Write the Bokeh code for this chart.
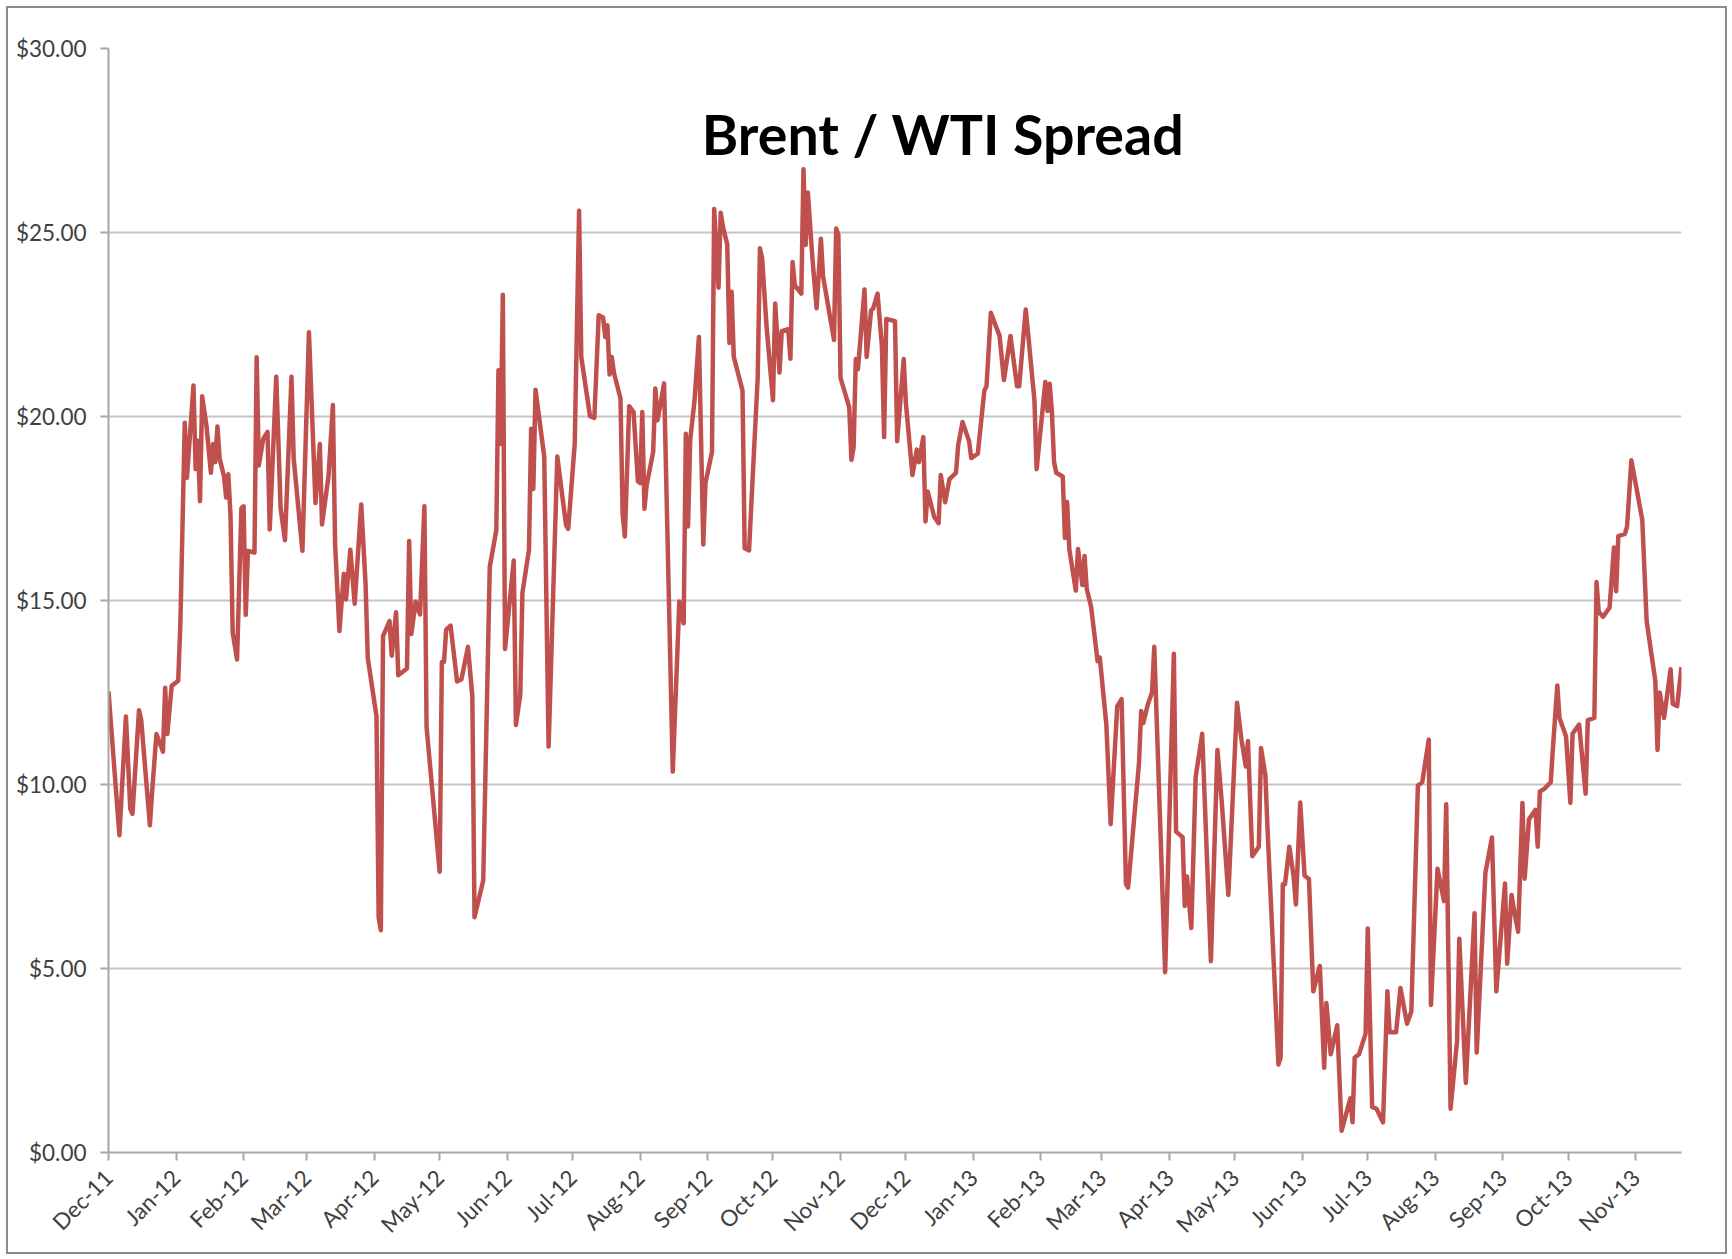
import pandas as pd
from math import pi
from bokeh.plotting import figure
from bokeh.models import (ColumnDataSource, Range1d, FixedTicker,
                          DatetimeTickFormatter, NumeralTickFormatter, Label)
from bokeh.embed import file_html
from bokeh.resources import INLINE

title_text = "Brent / WTI Spread"
y_ticks = [0, 5, 10, 15, 20, 25, 30]
month_ticks = ["2011-12-01", "2012-01-01", "2012-02-01", "2012-03-01", "2012-04-01",
               "2012-05-01", "2012-06-01", "2012-07-01", "2012-08-01", "2012-09-01",
               "2012-10-01", "2012-11-01", "2012-12-01", "2013-01-01", "2013-02-01",
               "2013-03-01", "2013-04-01", "2013-05-01", "2013-06-01", "2013-07-01",
               "2013-08-01", "2013-09-01", "2013-10-01", "2013-11-01"]

dates = [
    "2011-12-01", "2011-12-06", "2011-12-09", "2011-12-11", "2011-12-12", "2011-12-15",
    "2011-12-16", "2011-12-20", "2011-12-21", "2011-12-23", "2011-12-26", "2011-12-27",
    "2011-12-28", "2011-12-30",
    "2012-01-02", "2012-01-03", "2012-01-05", "2012-01-06", "2012-01-09", "2012-01-10",
    "2012-01-11", "2012-01-12", "2012-01-13", "2012-01-15", "2012-01-17", "2012-01-18",
    "2012-01-19", "2012-01-20", "2012-01-21", "2012-01-23", "2012-01-24", "2012-01-25",
    "2012-01-26", "2012-01-27", "2012-01-29", "2012-01-31",
    "2012-02-01", "2012-02-02", "2012-02-03", "2012-02-06", "2012-02-07", "2012-02-08",
    "2012-02-10", "2012-02-12", "2012-02-13", "2012-02-16", "2012-02-18", "2012-02-20",
    "2012-02-23", "2012-02-24", "2012-02-28",
    "2012-03-02", "2012-03-05", "2012-03-07", "2012-03-08", "2012-03-11", "2012-03-13",
    "2012-03-14", "2012-03-16", "2012-03-18", "2012-03-19", "2012-03-21", "2012-03-23",
    "2012-03-26", "2012-03-28", "2012-03-29",
    "2012-04-02", "2012-04-03", "2012-04-04", "2012-04-05", "2012-04-08", "2012-04-09",
    "2012-04-11", "2012-04-12", "2012-04-16", "2012-04-17", "2012-04-18", "2012-04-20",
    "2012-04-22", "2012-04-24", "2012-04-25",
    "2012-05-01", "2012-05-02", "2012-05-03", "2012-05-04", "2012-05-06", "2012-05-09",
    "2012-05-11", "2012-05-14", "2012-05-16", "2012-05-17", "2012-05-21", "2012-05-24",
    "2012-05-27", "2012-05-28", "2012-05-29", "2012-05-30", "2012-05-31",
    "2012-06-04", "2012-06-05", "2012-06-07", "2012-06-08", "2012-06-11", "2012-06-12",
    "2012-06-13", "2012-06-14", "2012-06-18", "2012-06-20", "2012-06-24", "2012-06-28",
    "2012-06-29",
    "2012-07-02", "2012-07-04", "2012-07-05", "2012-07-09", "2012-07-11", "2012-07-13",
    "2012-07-15", "2012-07-16", "2012-07-17", "2012-07-18", "2012-07-19", "2012-07-20",
    "2012-07-23", "2012-07-24", "2012-07-25", "2012-07-27", "2012-07-29", "2012-07-31",
    "2012-08-01", "2012-08-02", "2012-08-03", "2012-08-04", "2012-08-07", "2012-08-08",
    "2012-08-09", "2012-08-11", "2012-08-12", "2012-08-16", "2012-08-19", "2012-08-21",
    "2012-08-22", "2012-08-23", "2012-08-24", "2012-08-26", "2012-08-28", "2012-08-30",
    "2012-08-31",
    "2012-09-03", "2012-09-04", "2012-09-06", "2012-09-07", "2012-09-08", "2012-09-10",
    "2012-09-11", "2012-09-12", "2012-09-13", "2012-09-17", "2012-09-18", "2012-09-20",
    "2012-09-24", "2012-09-25", "2012-09-26", "2012-09-28",
    "2012-10-01", "2012-10-02", "2012-10-04", "2012-10-05", "2012-10-08", "2012-10-09",
    "2012-10-10", "2012-10-11", "2012-10-14", "2012-10-15", "2012-10-16", "2012-10-17",
    "2012-10-19", "2012-10-21", "2012-10-23", "2012-10-24", "2012-10-29", "2012-10-30",
    "2012-10-31",
    "2012-11-01", "2012-11-05", "2012-11-06", "2012-11-07", "2012-11-08", "2012-11-09",
    "2012-11-12", "2012-11-13", "2012-11-15", "2012-11-16", "2012-11-18", "2012-11-20",
    "2012-11-21", "2012-11-22", "2012-11-26", "2012-11-27", "2012-11-30",
    "2012-12-01", "2012-12-04", "2012-12-06", "2012-12-07", "2012-12-09", "2012-12-10",
    "2012-12-11", "2012-12-14", "2012-12-16", "2012-12-17", "2012-12-19", "2012-12-21",
    "2012-12-24", "2012-12-25", "2012-12-27", "2012-12-30", "2012-12-31",
    "2013-01-03", "2013-01-06", "2013-01-07", "2013-01-09", "2013-01-13", "2013-01-15",
    "2013-01-18", "2013-01-21", "2013-01-22", "2013-01-25", "2013-01-26", "2013-01-29",
    "2013-01-30",
    "2013-02-03", "2013-02-04", "2013-02-05", "2013-02-06", "2013-02-07", "2013-02-08",
    "2013-02-11", "2013-02-12", "2013-02-13", "2013-02-14", "2013-02-17", "2013-02-18",
    "2013-02-20", "2013-02-21", "2013-02-22", "2013-02-24", "2013-02-27", "2013-02-28",
    "2013-03-03", "2013-03-05", "2013-03-08", "2013-03-10", "2013-03-12", "2013-03-13",
    "2013-03-18", "2013-03-19", "2013-03-20", "2013-03-22", "2013-03-24", "2013-03-25",
    "2013-03-30",
    "2013-04-03", "2013-04-04", "2013-04-07", "2013-04-08", "2013-04-09", "2013-04-11",
    "2013-04-13", "2013-04-16", "2013-04-20", "2013-04-23", "2013-04-25", "2013-04-28",
    "2013-05-02", "2013-05-04", "2013-05-06", "2013-05-07", "2013-05-09", "2013-05-12",
    "2013-05-13", "2013-05-15", "2013-05-16", "2013-05-21", "2013-05-22", "2013-05-23",
    "2013-05-24", "2013-05-26", "2013-05-28", "2013-05-29", "2013-05-31",
    "2013-06-02", "2013-06-04", "2013-06-06", "2013-06-09", "2013-06-11", "2013-06-12",
    "2013-06-14", "2013-06-17", "2013-06-19", "2013-06-23", "2013-06-24", "2013-06-25",
    "2013-06-27", "2013-06-30",
    "2013-07-01", "2013-07-03", "2013-07-05", "2013-07-08", "2013-07-10", "2013-07-11",
    "2013-07-14", "2013-07-16", "2013-07-19", "2013-07-21", "2013-07-24", "2013-07-26",
    "2013-07-29", "2013-07-30",
    "2013-08-02", "2013-08-05", "2013-08-06", "2013-08-08", "2013-08-11", "2013-08-12",
    "2013-08-15", "2013-08-19", "2013-08-20", "2013-08-24", "2013-08-27", "2013-08-29",
    "2013-09-02", "2013-09-03", "2013-09-05", "2013-09-06", "2013-09-08", "2013-09-10",
    "2013-09-11", "2013-09-13", "2013-09-16", "2013-09-17", "2013-09-18", "2013-09-20",
    "2013-09-23", "2013-09-24", "2013-09-26", "2013-09-27", "2013-09-30",
    "2013-10-02", "2013-10-03", "2013-10-06", "2013-10-09", "2013-10-10", "2013-10-13",
    "2013-10-14", "2013-10-15", "2013-10-17", "2013-10-20", "2013-10-22", "2013-10-23",
    "2013-10-24", "2013-10-27", "2013-10-28", "2013-10-30",
    "2013-11-04", "2013-11-06", "2013-11-10", "2013-11-11", "2013-11-12", "2013-11-14",
    "2013-11-17", "2013-11-18", "2013-11-20", "2013-11-22",
]

spread = [
    12.53, 8.62, 11.85, 9.34, 9.20, 12.02,
    11.76, 8.89, 9.78, 11.37, 10.89, 12.63,
    11.37, 12.68,
    12.82, 14.40, 19.83, 18.33, 20.84, 18.57,
    19.34, 17.70, 20.55, 19.73, 18.47, 19.25,
    18.76, 19.73, 18.86, 18.38, 17.80, 18.43,
    17.31, 14.13, 13.40, 17.51,
    17.56, 14.61, 16.35, 16.30, 21.61, 18.67,
    19.39, 19.58, 16.93, 21.08, 17.51, 16.64,
    21.08, 18.86, 16.35,
    22.29, 17.65, 19.25, 17.07, 18.38, 20.31,
    16.54, 14.17, 15.73, 15.03, 16.38, 14.91,
    17.61, 15.44, 13.44,
    11.86, 6.39, 6.04, 14.03, 14.44, 13.50,
    14.68, 12.97, 13.15, 16.62, 14.09, 14.97,
    14.62, 17.56, 11.56,
    7.63, 13.33, 13.33, 14.21, 14.32, 12.80,
    12.86, 13.74, 12.39, 6.39, 7.39, 15.91,
    16.91, 21.26, 19.26, 23.31, 13.68,
    16.09, 11.62, 12.44, 15.21, 16.38, 19.67,
    18.03, 20.73, 18.91, 11.03, 18.91, 17.05,
    16.95,
    19.26, 25.59, 21.62, 20.01, 19.96, 22.75,
    22.69, 22.16, 22.48, 21.14, 21.62, 21.19,
    20.49, 17.33, 16.74, 20.28, 20.12, 18.24,
    18.19, 20.12, 17.49, 18.13, 19.04, 20.76,
    19.90, 20.55, 20.90, 10.35, 14.97, 14.38,
    19.53, 17.01, 19.37, 20.44, 22.16, 16.52,
    18.19,
    19.04, 25.64, 23.50, 25.54, 25.16, 24.68,
    22.00, 23.39, 21.62, 20.71, 16.42, 16.36,
    21.08, 24.57, 24.30, 22.48,
    20.44, 23.07, 21.19, 22.32, 22.37, 21.57,
    24.20, 23.57, 23.34, 26.72, 24.66, 26.09,
    24.37, 22.94, 24.83, 23.80, 22.08, 25.11,
    24.94,
    21.05, 20.25, 18.82, 19.16, 21.56, 21.28,
    23.45, 21.62, 22.88, 22.94, 23.34, 21.91,
    19.44, 22.65, 22.59, 19.33, 21.56,
    20.36, 18.41, 19.10, 18.76, 19.44, 17.15,
    17.96, 17.27, 17.10, 18.41, 17.67, 18.30,
    18.47, 19.22, 19.85, 19.33, 18.87,
    18.99, 20.70, 20.82, 22.82, 22.19, 20.99,
    22.19, 20.82, 20.82, 22.91, 22.31, 20.44,
    18.57,
    20.94, 20.15, 20.89, 20.15, 18.77, 18.47,
    18.37, 16.70, 17.68, 16.40, 15.27, 16.40,
    15.42, 16.21, 15.32, 14.83, 13.35, 13.45,
    11.63, 8.92, 12.12, 12.32, 7.30, 7.20,
    10.59, 12.00, 11.67, 12.17, 12.51, 13.74,
    4.90,
    13.55, 8.72, 8.57, 6.70, 7.50, 6.10,
    10.20, 11.38, 5.20, 10.94, 9.51, 7.00,
    12.22, 11.23, 10.49, 11.18, 8.05, 8.31,
    10.99, 10.25, 8.77, 2.39, 2.58, 7.29,
    7.29, 8.31, 7.48, 6.74, 9.51,
    7.52, 7.43, 4.38, 5.07, 2.30, 4.06,
    2.67, 3.46, 0.59, 1.47, 0.82, 2.58,
    2.67, 3.23,
    6.09, 1.24, 1.19, 0.82, 4.38, 3.27,
    3.27, 4.47, 3.50, 3.83, 9.97, 10.06,
    11.22, 4.01,
    7.71, 6.83, 9.46, 1.19, 3.04, 5.81,
    1.89, 6.50, 2.72, 7.60, 8.56, 4.38,
    7.31, 5.13, 7.00, 6.63, 6.00, 9.50,
    7.44, 9.06, 9.31, 8.31, 9.81, 9.88,
    10.06, 11.00, 12.69, 11.81, 11.31,
    9.50, 11.38, 11.63, 9.75, 11.75, 11.81,
    15.50, 14.69, 14.56, 14.81, 16.44, 15.25,
    16.75, 16.81, 17.00, 18.81,
    17.19, 14.44, 12.81, 10.94, 12.50, 11.81,
    13.13, 12.19, 12.13, 13.19,
]

src = ColumnDataSource(dict(date=pd.to_datetime(dates), spread=spread))

p = figure(width=1721, height=1248, x_axis_type="datetime",
           output_backend="svg", toolbar_location=None,
           x_range=Range1d(pd.Timestamp(dates[0]), pd.Timestamp(dates[-1])),
           y_range=Range1d(0, 30),
           min_border_left=100, min_border_right=48,
           min_border_top=40, min_border_bottom=104)
p.styles = {"border": "2px solid #8c8c8c", "margin": "6px 0 0 6px"}
p.background_fill_color = "white"
p.border_fill_color = "white"
p.outline_line_color = None

p.line("date", "spread", source=src, line_color="#c0504d",
       line_width=4.5, line_join="round")

tick_ms = [pd.Timestamp(t).value / 1e6 for t in month_ticks]
fmt = "%b-%y"
p.xaxis.ticker = FixedTicker(ticks=tick_ms)
p.xaxis.formatter = DatetimeTickFormatter(
    milliseconds=fmt, seconds=fmt, minsec=fmt, minutes=fmt, hourmin=fmt,
    hours=fmt, days=fmt, months=fmt, years=fmt)
p.xaxis.major_label_orientation = pi / 4
p.xgrid.visible = False

p.yaxis.ticker = FixedTicker(ticks=y_ticks)
p.yaxis.formatter = NumeralTickFormatter(format="$0.00")
p.ygrid.ticker = FixedTicker(ticks=y_ticks)
p.ygrid.grid_line_color = "#c4c4c4"
p.ygrid.grid_line_width = 2

for ax in (p.xaxis[0], p.yaxis[0]):
    ax.axis_line_color = "#a6a6a6"
    ax.axis_line_width = 2
    ax.major_tick_line_color = "#a6a6a6"
    ax.major_tick_line_width = 2
    ax.major_tick_out = 8
    ax.major_tick_in = 0
    ax.minor_tick_line_color = None
    ax.major_label_text_font = "Lato"
    ax.major_label_text_font_size = "22.5px"
    ax.major_label_text_color = "#404040"
p.yaxis.major_label_standoff = 14
p.xaxis.major_label_standoff = 13

title_x = pd.Timestamp("2012-12-18").value / 1e6
p.add_layout(Label(x=title_x, y=27.7, text=title_text, text_font="Lato",
                   text_font_style="bold", text_font_size="55.5px",
                   text_color="black", text_align="center",
                   text_baseline="alphabetic"))

open("out.html", "w").write(file_html(p, INLINE))
